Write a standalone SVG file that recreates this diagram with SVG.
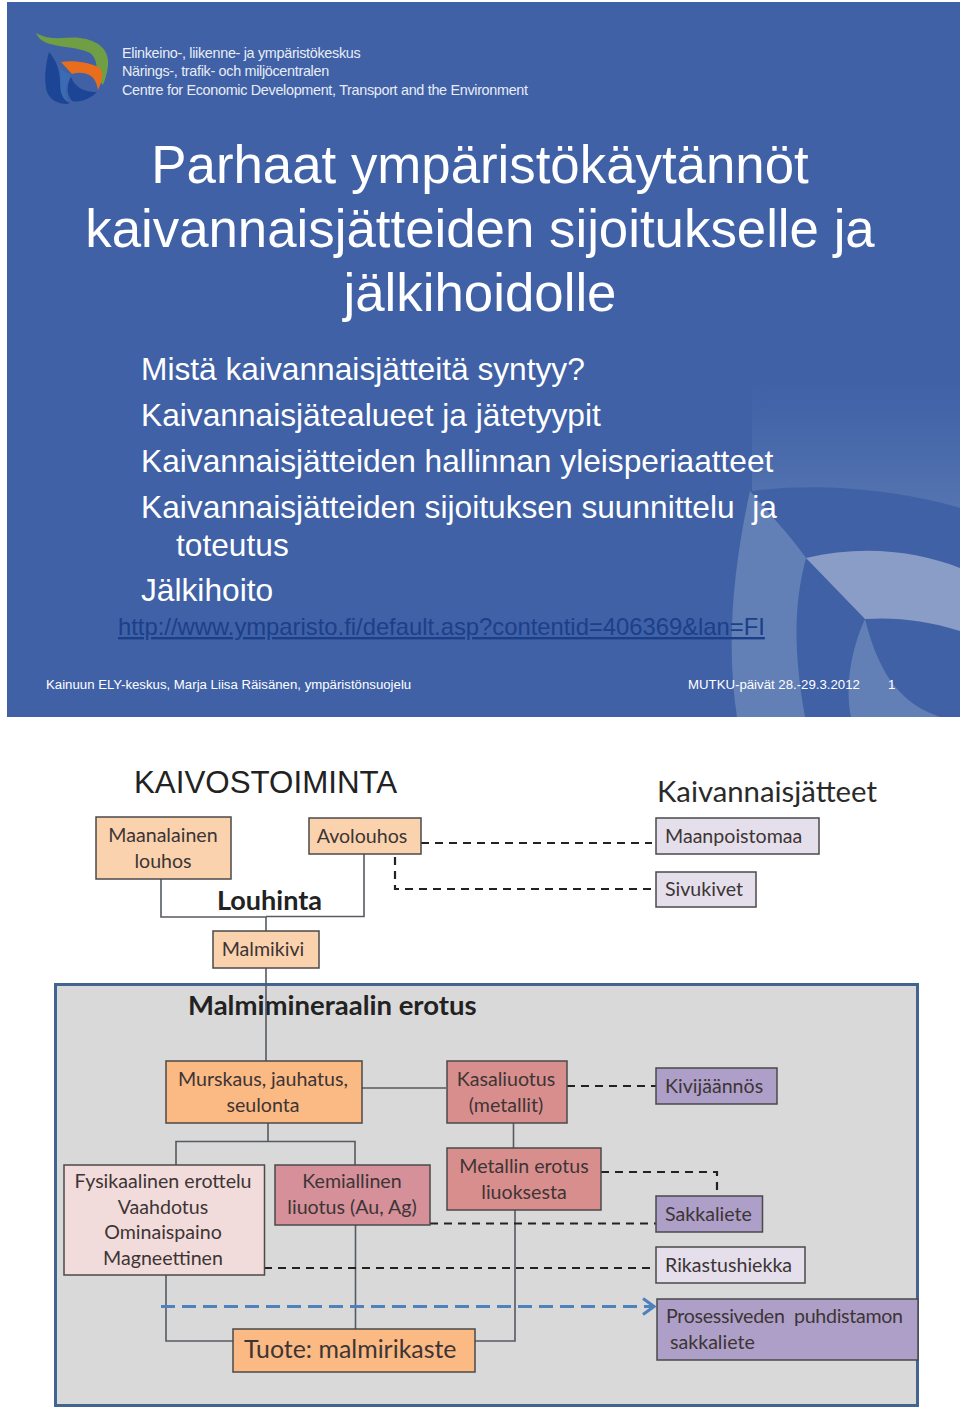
<svg xmlns="http://www.w3.org/2000/svg" width="960" height="1419" viewBox="0 0 960 1419">
<defs>
<style>
.h{font-family:"Liberation Sans",Arial,sans-serif;fill:#e8edf6;font-size:14.4px;letter-spacing:-.32px}
.t{font-family:"Liberation Sans",Arial,sans-serif;fill:#fff;font-size:52.8px;text-anchor:middle}
.b{font-family:"Liberation Sans",Arial,sans-serif;fill:#fff;font-size:31.7px}
.f{font-family:"Liberation Sans",Arial,sans-serif;fill:#fff;font-size:13.22px}
.n{font-family:Lato,"Open Sans",sans-serif;fill:#3d3535;font-size:19.6px}
.c{text-anchor:middle}
.box{stroke:#4a4a4a;stroke-width:1.5}
.solid{fill:none;stroke:#555b60;stroke-width:1.6}
.dash{fill:none;stroke:#222;stroke-width:2.2;stroke-dasharray:8 6}
.blue{fill:none;stroke:#4f81bd;stroke-width:3;stroke-dasharray:14 7}
</style>
<linearGradient id="fade" x1="0" y1="0" x2="0" y2="1"><stop offset="0" stop-color="#4d6fae" stop-opacity="0"/><stop offset="1" stop-color="#5574b0"/></linearGradient>
<marker id="open" markerUnits="userSpaceOnUse" markerWidth="16" markerHeight="20" refX="14" refY="10" orient="auto"><path d="M3 2 L14 10 L3 18" fill="none" stroke="#4f81bd" stroke-width="3"/></marker>
</defs>
<rect width="960" height="1419" fill="#fff"/>
<g id="slide">
<rect x="7" y="2" width="953" height="715" fill="#4061a6"/>
<path d="M752 380H960V508C900 490 820 482 752 491Z" fill="url(#fade)"/>
<path d="M750 491C735 560 725 640 737 717H805C795 660 792 610 806 558C790 535 770 515 750 491Z" fill="#6280b6"/>
<path d="M806 558C860 545 915 550 960 568V631C925 620 895 617 865 619Z" fill="#8a9dc6"/>
<path d="M865 619C851 650 845 685 851 717H940C905 705 880 680 865 619Z" fill="#6280b6"/>
<g id="logo">
<path d="M36 33C52 42 66 36 80 38C98 40 110 50 108 66C107 74 105 80 103 85C101 82 98 80 95 80C98 68 97 58 90 53C78 47 64 48 50 44C43 42 38 38 36 33Z" fill="#6f9e45"/>
<path d="M61 62C72 60 90 62 100 68C103 72 103 80 98 90C97 84 95 79 91 76C85 72 78 72 72 74Z" fill="#e86e1e"/>
<path d="M59 65C62 72 68 73 71 75C66 84 64 92 68 101L60 100C60 88 62 76 59 65Z" fill="#3a6cb6"/>
<path d="M49 52C45 66 44 82 47 92C50 100 58 104 67 104L70 103C62 100 60 92 60 82C60 70 56 60 49 52Z" fill="#1c4596"/>
<path d="M71 77C67 84 66 94 72 101C80 103 90 99 97 92C88 92 76 90 71 77Z" fill="#1c4596"/>
<text class="h" x="122" y="58">Elinkeino-, liikenne- ja ympäristökeskus</text>
<text class="h" x="122" y="76">Närings-, trafik- och miljöcentralen</text>
<text class="h" x="122" y="95">Centre for Economic Development, Transport and the Environment</text>
</g>
<text class="t" x="480" y="183">Parhaat ympäristökäytännöt</text>
<text class="t" x="480" y="246.500">kaivannaisjätteiden sijoitukselle ja</text>
<text class="t" x="480" y="310.500">jälkihoidolle</text>
<text class="b" x="141" y="380">Mistä kaivannaisjätteitä syntyy?</text>
<text class="b" x="141" y="426">Kaivannaisjätealueet ja jätetyypit</text>
<text class="b" x="141" y="472">Kaivannaisjätteiden hallinnan yleisperiaatteet</text>
<text class="b" x="141" y="518" xml:space="preserve">Kaivannaisjätteiden sijoituksen suunnittelu  ja</text>
<text class="b" x="176" y="556">toteutus</text>
<text class="b" x="141" y="601">Jälkihoito</text>
<text x="118" y="635" font-family="Liberation Sans,Arial,sans-serif" font-size="23.8" fill="#1c3f8a" text-decoration="underline">http://www.ymparisto.fi/default.asp?contentid=406369&amp;lan=FI</text>
<text class="f" x="46" y="689">Kainuun ELY-keskus, Marja Liisa Räisänen, ympäristönsuojelu</text>
<text class="f" x="688" y="689">MUTKU-päivät 28.-29.3.2012</text>
<text class="f" x="888" y="689">1</text>
</g>
<g id="panel"><rect x="55.500" y="984.500" width="862" height="421" fill="#d9d9d9" stroke="#416590" stroke-width="3"/></g>
<text x="134" y="793" font-family="Liberation Sans,Arial,sans-serif" font-size="31.3" fill="#222">KAIVOSTOIMINTA</text>
<text x="657" y="802" font-family="Lato,sans-serif" font-size="29.3" fill="#2a2a2a">Kaivannaisjätteet</text>
<text x="217" y="910" font-family="Lato,sans-serif" font-weight="700" font-size="27" fill="#222">Louhinta</text>
<text x="188" y="1015" font-family="Lato,sans-serif" font-weight="700" font-size="27.500" fill="#222">Malmimineraalin erotus</text>
<g id="connectors">
<path class="solid" d="M161 878V917H266M364 854V916.500H266M266 917V931M266 968V1061"/>
<path class="solid" d="M362 1088H446M513.500 1123V1148M268 1123V1141M176 1165V1141.500H355V1165M355.500 1225V1329M166 1275V1341H233M515 1210V1341H475"/>
<path class="dash" d="M421 843H652M395 857V889H652"/>
<path class="dash" d="M567 1086H656M601 1172H717V1195M430 1223.500H656M264 1268H656"/>
<path class="blue" d="M161 1306.500H654" marker-end="url(#open)"/>
</g>
<g id="maanalainen"><rect class="box" x="96" y="817" width="135" height="62" fill="#fad2ae"/><text class="n c" x="163" y="842">Maanalainen</text><text class="n c" x="163" y="868">louhos</text></g>
<g id="avolouhos"><rect class="box" x="309" y="818" width="112" height="36" fill="#fad2ae"/><text class="n c" x="362" y="843">Avolouhos</text></g>
<g id="malmikivi"><rect class="box" x="213" y="931" width="106" height="37" fill="#fad2ae"/><text class="n c" x="263" y="956">Malmikivi</text></g>
<g id="maanpoistomaa"><rect class="box" x="656" y="818" width="163" height="36" fill="#e5dfec"/><text class="n" x="665" y="843">Maanpoistomaa</text></g>
<g id="sivukivet"><rect class="box" x="656" y="872" width="100" height="35" fill="#e5dfec"/><text class="n" x="665" y="896">Sivukivet</text></g>
<g id="murskaus"><rect class="box" x="166" y="1061" width="196" height="62" fill="#fbb983"/><text class="n c" x="263" y="1086">Murskaus, jauhatus,</text><text class="n c" x="263" y="1112">seulonta</text></g>
<g id="kasaliuotus"><rect class="box" x="447" y="1061" width="120" height="62" fill="#d98e8e"/><text class="n c" x="506" y="1086">Kasaliuotus</text><text class="n c" x="506" y="1112">(metallit)</text></g>
<g id="kivijaannos"><rect class="box" x="656" y="1068" width="121" height="36" fill="#ae9fc8"/><text class="n" x="665" y="1093">Kivijäännös</text></g>
<g id="metallin"><rect class="box" x="447" y="1148" width="154" height="62" fill="#d98e8e"/><text class="n c" x="524" y="1173">Metallin erotus</text><text class="n c" x="524" y="1199">liuoksesta</text></g>
<g id="sakkaliete"><rect class="box" x="656" y="1196" width="106.500" height="36" fill="#ae9fc8"/><text class="n" x="665" y="1221">Sakkaliete</text></g>
<g id="rikastushiekka"><rect class="box" x="656" y="1247" width="149" height="36" fill="#e5dfec"/><text class="n" x="665" y="1272">Rikastushiekka</text></g>
<g id="prosessiveden"><rect class="box" x="657" y="1299" width="261" height="61" fill="#ae9fc8"/><text class="n" x="666" y="1323" textLength="237" xml:space="preserve">Prosessiveden  puhdistamon</text><text class="n" x="670" y="1349">sakkaliete</text></g>
<g id="fysikaalinen"><rect class="box" x="64" y="1165" width="200.500" height="110" fill="#f2dcdb"/><text class="n c" x="163" y="1188">Fysikaalinen erottelu</text><text class="n c" x="163" y="1214">Vaahdotus</text><text class="n c" x="163" y="1239">Ominaispaino</text><text class="n c" x="163" y="1265">Magneettinen</text></g>
<g id="kemiallinen"><rect class="box" x="275" y="1165" width="155" height="60" fill="#d5909a"/><text class="n c" x="352" y="1188">Kemiallinen</text><text class="n c" x="352" y="1214">liuotus (Au, Ag)</text></g>
<g id="tuote"><rect class="box" x="233" y="1329" width="242" height="43" fill="#fbb983"/><text class="n" x="244" y="1358" style="font-size:24.9px">Tuote: malmirikaste</text></g>
</svg>
